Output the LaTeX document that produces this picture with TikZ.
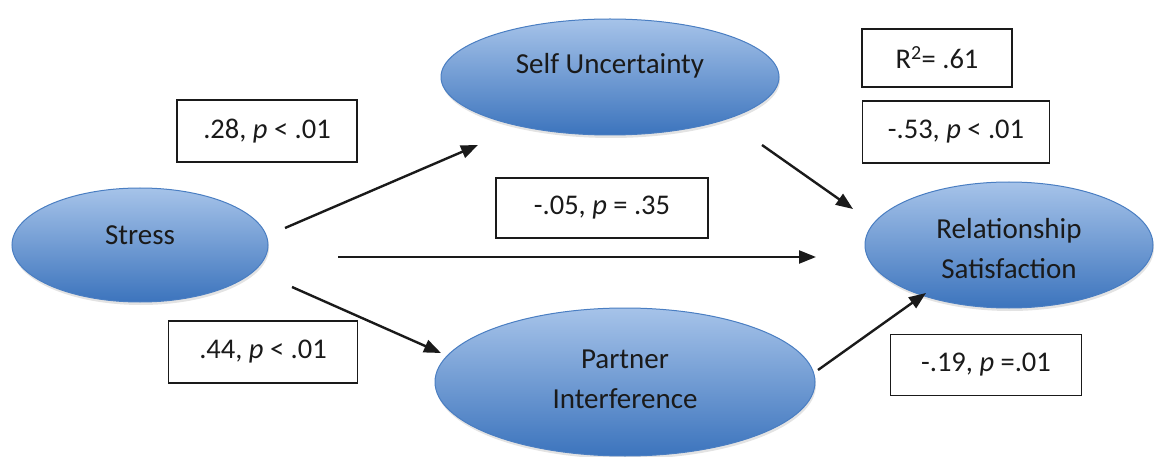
\documentclass[tikz,border=0pt]{standalone}
\usepackage{fontspec}
\setmainfont{Carlito}
\usetikzlibrary{shapes.geometric,arrows.meta,shadows}
\definecolor{elltop}{HTML}{A6C3E9}
\definecolor{ellbot}{HTML}{3C74BD}
\definecolor{elledge}{HTML}{4A7EC2}
\definecolor{ink}{HTML}{1A1A1A}
\begin{document}
\begin{tikzpicture}[x=1pt,y=-1pt,
  latent/.style={ellipse, draw=elledge, line width=1pt, top color=elltop,
    bottom color=ellbot, inner sep=0pt,
    drop shadow={opacity=0.22, shadow xshift=1pt, shadow yshift=-3pt}},
  lbl/.style={align=center, font=\fontsize{29}{40}\selectfont, text=ink, inner sep=0pt},
  coef/.style={draw=ink, line width=1.3pt, fill=white, inner sep=0pt,
    font=\fontsize{28.5}{32}\selectfont, text=ink},
  effect/.style={line width=2.4pt, draw=ink, -{Triangle[length=17pt,width=13pt]}}]
\useasboundingbox (0,0) rectangle (1157,457);

% latent variables
\node[latent, minimum width=256pt, minimum height=114pt] (stress) at (140,245) {};
\node[latent, minimum width=338pt, minimum height=116pt] (selfu) at (610,77) {};
\node[latent, minimum width=288pt, minimum height=126pt] (relsat) at (1009,245) {};
\node[latent, minimum width=380pt, minimum height=148pt] (partner) at (625,382) {};

\node[lbl] (tstress) at (140,235) {Stress};
\node[lbl] (tselfu) at (610,66) {Self Uncertainty};
\node[lbl] (trelsat) at (1009,249) {Relationship\\Satisfaction};
\node[lbl] (tpartner) at (625,379) {Partner\\Interference};

% path coefficients
\node[coef, minimum width=180pt, minimum height=62pt] (b28) at (267,131) {.28, \textit{p} < .01};
\node[coef, minimum width=212pt, minimum height=60pt] (b05) at (602,208) {-.05, \textit{p} = .35};
\node[coef, minimum width=189pt, minimum height=62pt] (b44) at (263,352) {.44, \textit{p} < .01};
\node[coef, minimum width=150pt, minimum height=58pt] (br2) at (937,58) {R\textsuperscript{2}= .61};
\node[coef, minimum width=187pt, minimum height=62pt] (b53) at (956,132) {-.53, \textit{p} < .01};
\node[coef, minimum width=191pt, minimum height=61pt] (b19) at (986,365) {-.19, \textit{p} =.01};

% arrow end points
\coordinate (sA) at (285,228);
\coordinate (uA) at (478,145);
\coordinate (sB) at (338,257);
\coordinate (rB) at (816,257);
\coordinate (sC) at (292,287);
\coordinate (pC) at (441,353);
\coordinate (uD) at (762,145);
\coordinate (rD) at (853,209);
\coordinate (pE) at (818,370);
\coordinate (rE) at (926,293);

\draw[effect] (sA) -- (uA);
\draw[effect] (sB) -- (rB);
\draw[effect] (sC) -- (pC);
\draw[effect] (uD) -- (rD);
\draw[effect] (pE) -- (rE);
\end{tikzpicture}
\end{document}
